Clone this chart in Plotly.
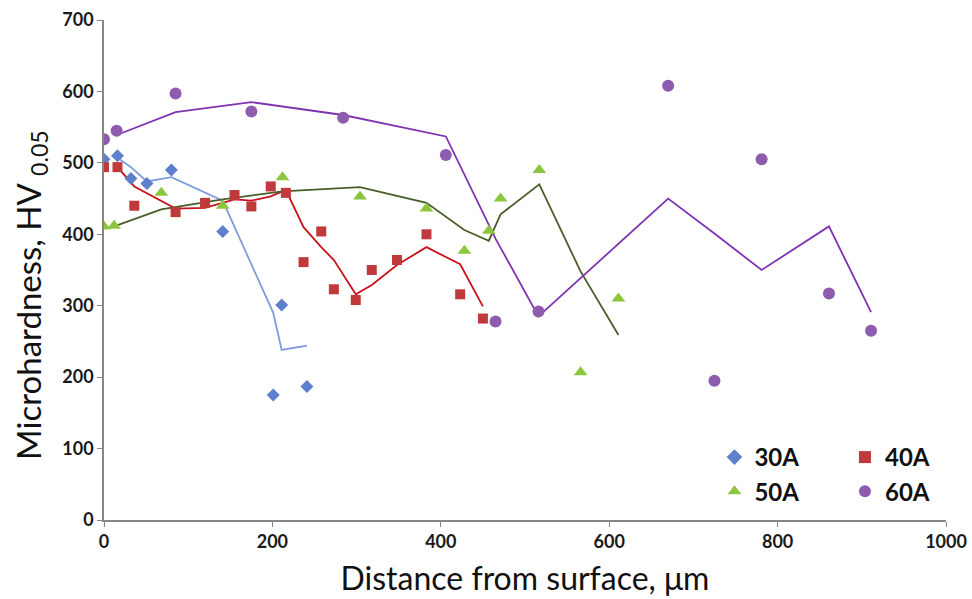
import plotly.graph_objects as go

# ---- data ----
x30 = [0, 16, 32, 51, 80, 141, 201, 211, 241]
y30 = [505, 510, 478, 471, 490, 404, 175, 301, 187]
x30_trend = [16, 32, 51, 80, 141, 201, 211, 241]
y30_trend = [507, 494, 474, 480, 447, 290, 238, 244]

x40 = [0, 16, 36, 85, 120, 155, 175, 198, 216, 237, 258, 273, 299, 318, 348, 383, 423, 450]
y40 = [494, 494, 440, 431, 444, 455, 439, 467, 458, 361, 404, 323, 308, 350, 364, 400, 316, 282]
x40_trend = [16, 36, 85, 120, 155, 175, 198, 216, 237, 258, 273, 299, 318, 348, 383, 423, 450]
y40_trend = [494, 467, 436, 437, 449, 447, 453, 462, 410, 382, 364, 316, 329, 357, 382, 358, 299]

x50 = [0, 12, 68, 141, 212, 304, 383, 428, 457, 471, 517, 566, 611]
y50 = [411, 412, 458, 440, 480, 453, 436, 377, 405, 450, 490, 207, 310]
x50_trend = [12, 68, 141, 212, 304, 383, 428, 457, 471, 517, 566, 611]
y50_trend = [411, 435, 449, 460, 466, 444, 406, 391, 428, 470, 348, 259]

x60 = [0, 15, 85, 175, 284, 406, 465, 516, 670, 725, 781, 861, 911]
y60 = [533, 545, 597, 572, 563, 511, 278, 292, 608, 195, 505, 317, 265]
x60_trend = [15, 85, 175, 284, 406, 465, 516, 670, 725, 781, 861, 911]
y60_trend = [539, 571, 585, 567, 537, 394, 285, 450, 401, 350, 411, 291]

series = [
    ("30A", x30, y30, x30_trend, y30_trend, "#5E7FCB", "#7F9BDB", "diamond", 10, "legend"),
    ("40A", x40, y40, x40_trend, y40_trend, "#C0393B", "#C8141E", "square", 10, "legend2"),
    ("50A", x50, y50, x50_trend, y50_trend, "#8CC63F", "#4A5E2A", "triangle-up", 12, "legend"),
    ("60A", x60, y60, x60_trend, y60_trend, "#8E5BAE", "#7F33B0", "circle", 12, "legend2"),
]

fig = go.Figure()
for name, xs, ys, xt, yt, mc, lc, sym, sz, lg in series:
    fig.add_trace(go.Scatter(x=xt, y=yt, mode="lines", line=dict(color=lc, width=1.8),
                             showlegend=False, hoverinfo="skip"))
for name, xs, ys, xt, yt, mc, lc, sym, sz, lg in series:
    fig.add_trace(go.Scatter(x=xs, y=ys, mode="markers", name=name, legend=lg,
                             marker=dict(symbol=sym, size=sz, color=mc, line=dict(width=0))))

axis_common = dict(showgrid=False, zeroline=False, showline=True, linecolor="#868686",
                   linewidth=1.5, ticks="outside", ticklen=5, tickcolor="#868686",
                   automargin=False,
                   tickfont=dict(family="Lato", size=18, color="#1a1a1a", weight="bold"))

fig.update_xaxes(range=[0, 1000], dtick=200, **axis_common,
                 title=dict(text="Distance from surface, μm", standoff=16,
                            font=dict(family="Lato", size=32, color="#111")))
fig.update_yaxes(range=[0, 700], dtick=100, **axis_common)

# y-axis title placed as a rotated annotation so it sits where the reference has it
fig.add_annotation(text="Microhardness, HV <sub>0.05</sub>", textangle=-90,
                   xref="paper", yref="paper", x=-0.088, y=0.45,
                   xanchor="center", yanchor="middle", showarrow=False,
                   font=dict(family="Lato", size=33, color="#111"))

legend_font = dict(family="Lato", size=24, color="#111", weight="bold")
fig.update_layout(
    width=972, height=599,
    margin=dict(l=104, r=26, t=20, b=79),
    paper_bgcolor="white", plot_bgcolor="white",
    legend=dict(x=0.725, y=0.17, xanchor="left", yanchor="top", font=legend_font,
                bgcolor="rgba(0,0,0,0)", tracegroupgap=0, itemsizing="constant"),
    legend2=dict(x=0.88, y=0.17, xanchor="left", yanchor="top", font=legend_font,
                 bgcolor="rgba(0,0,0,0)", tracegroupgap=0, itemsizing="constant"),
)

fig.write_html("out.html", config={"displayModeBar": False},
               post_script="document.body.style.margin='0';document.body.style.overflow='hidden';")
